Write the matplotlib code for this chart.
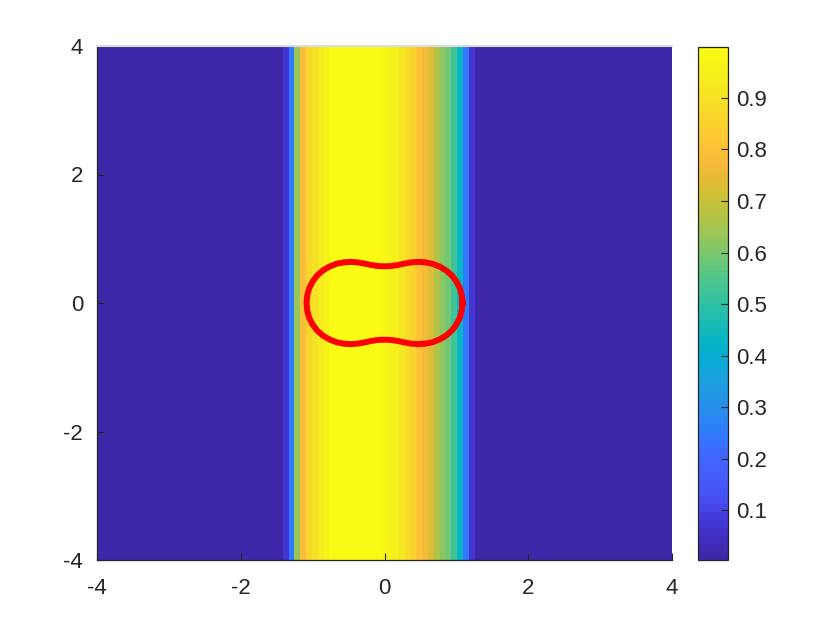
import numpy as np
import matplotlib
matplotlib.use("Agg")
import matplotlib.pyplot as plt
from matplotlib.colors import LinearSegmentedColormap, ListedColormap

plt.rcParams["font.family"] = ["Liberation Sans", "DejaVu Sans"]

# parula-like anchors (fraction, r, g, b)
parula_anchors = [
    (0.000, 0.2422, 0.1504, 0.6603),
    (0.075, 0.2691, 0.2199, 0.8491),
    (0.118, 0.2810, 0.3228, 0.9579),
    (0.196, 0.2586, 0.3984, 0.9954),
    (0.235, 0.1953, 0.4703, 0.9919),
    (0.275, 0.1648, 0.5292, 0.9432),
    (0.314, 0.1393, 0.5809, 0.9010),
    (0.353, 0.0960, 0.6329, 0.8726),
    (0.392, 0.0238, 0.6752, 0.8254),
    (0.431, 0.0340, 0.7117, 0.7615),
    (0.471, 0.1250, 0.7384, 0.6925),
    (0.510, 0.2062, 0.7596, 0.6242),
    (0.549, 0.3092, 0.7758, 0.5460),
    (0.588, 0.4420, 0.7810, 0.4530),
    (0.627, 0.5707, 0.7773, 0.3634),
    (0.667, 0.6880, 0.7677, 0.2857),
    (0.706, 0.7925, 0.7547, 0.2218),
    (0.745, 0.8935, 0.7371, 0.2040),
    (0.784, 0.9758, 0.7318, 0.2331),
    (0.824, 0.9970, 0.7754, 0.2039),
    (0.863, 0.9779, 0.8264, 0.1729),
    (0.902, 0.9604, 0.8791, 0.1472),
    (0.941, 0.9613, 0.9259, 0.1126),
    (1.000, 0.9769, 0.9839, 0.0805),
]

# field value per column cell (99 cells between x=-4 and x=4)
background = 0.003
profile = [0.07, 0.24, 0.64, 0.79, 0.86, 0.90, 0.93, 0.96,
           0.999, 0.999, 0.999, 0.999, 0.999, 0.999, 0.999, 0.999, 0.999,
           0.97, 0.96, 0.95, 0.92, 0.88, 0.85, 0.81, 0.78,
           0.73, 0.67, 0.62, 0.58, 0.52, 0.43, 0.24, 0.07]
n_left = 32
n_right = 34

# red contour, upper-right quarter (x, y)
curve_x = [1.085, 1.075, 1.048, 1.000, 0.940, 0.860, 0.770, 0.670,
           0.570, 0.470, 0.370, 0.270, 0.180, 0.090, 0.000]
curve_y = [0.000, 0.120, 0.230, 0.335, 0.425, 0.505, 0.565, 0.610,
           0.633, 0.640, 0.632, 0.612, 0.590, 0.575, 0.571]

ticks = [-4, -2, 0, 2, 4]
cbar_ticks = [0.1, 0.2, 0.3, 0.4, 0.5, 0.6, 0.7, 0.8, 0.9]

base = LinearSegmentedColormap.from_list(
    "parula", [(a[0], a[1:]) for a in parula_anchors])
cmap = ListedColormap(base(np.linspace(0, 1, 64)))

row = np.array([background] * n_left + profile + [background] * n_right)
xe = np.linspace(-4, 4, len(row) + 1)
ye = np.linspace(-4, 4, 100)
C = np.tile(row, (len(ye) - 1, 1))

fig = plt.figure(figsize=(8.4, 6.3), dpi=100)
ax = fig.add_axes([97 / 840, 70 / 630, 575 / 840, 514 / 630])
mesh = ax.pcolormesh(xe, ye, C, cmap=cmap, vmin=row.min(), vmax=row.max(),
                     shading="flat")

# full closed curve from quarter by symmetry
qx = np.array(curve_x)
qy = np.array(curve_y)
cx = np.concatenate([qx, -qx[::-1][1:], -qx[1:], qx[::-1][1:]])
cy = np.concatenate([qy, qy[::-1][1:], -qy[1:], -qy[::-1][1:]])
ax.plot(cx, cy, color="red", lw=4.3, solid_joinstyle="round")

ax.set_xlim(-4, 4)
ax.set_ylim(-4, 4)
ax.set_xticks(ticks)
ax.set_yticks(ticks)
ax.set_xticklabels([str(t) for t in ticks])
ax.set_yticklabels([str(t) for t in ticks])
ax.tick_params(direction="in", length=5, labelsize=16, colors="#262626",
               top=False, right=False)
ax.tick_params(axis="x", pad=13)
ax.tick_params(axis="y", pad=10)
for s in ["left", "bottom"]:
    ax.spines[s].set_color("#262626")
    ax.spines[s].set_linewidth(0.9)
ax.spines["right"].set_visible(False)
ax.spines["top"].set_color("#dcdcdc")
ax.spines["top"].set_linewidth(1.5)

cax = fig.add_axes([698 / 840, 70 / 630, 30 / 840, 513 / 630])
cb = fig.colorbar(mesh, cax=cax, ticks=cbar_ticks)
cb.ax.set_yticklabels(["%.1f" % t for t in cbar_ticks])
cb.ax.tick_params(direction="in", length=5, labelsize=16, colors="#262626",
                  pad=6)
cb.outline.set_edgecolor("#262626")
cb.outline.set_linewidth(0.9)

fig.savefig("out.png", dpi=100)
